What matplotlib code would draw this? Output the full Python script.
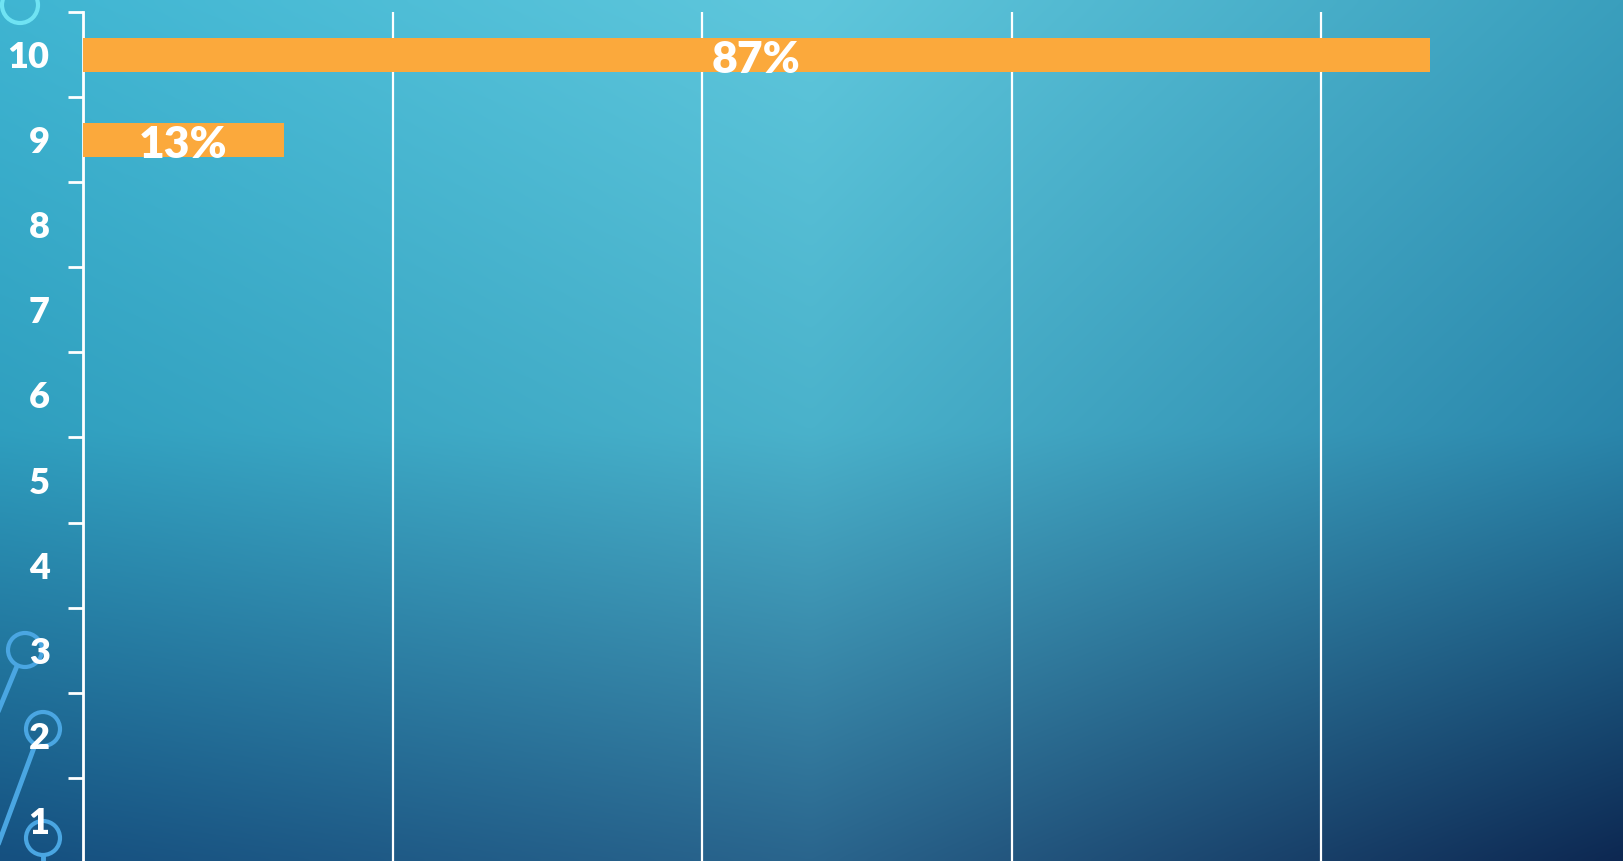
import matplotlib

matplotlib.use("Agg")
import matplotlib.pyplot as plt
import numpy as np
from matplotlib.colors import to_rgb
from matplotlib.patches import Circle

W, H = 1623, 861
DPI = 100

categories = ["1", "2", "3", "4", "5", "6", "7", "8", "9", "10"]
values = [0, 0, 0, 0, 0, 0, 0, 0, 13, 87]
labels = ["", "", "", "", "", "", "", "", "13%", "87%"]
x_ticks = [0, 20, 40, 60, 80]

BAR_COLOR = "#fba93c"
FONT = ["Lato", "DejaVu Sans"]


def background(ax):
    # rough 3x3 colour grid of the slide background, blended bilinearly
    grid = np.array([
        [to_rgb("#3fb5d2"), to_rgb("#5fc7dc"), to_rgb("#3a9fbd")],
        [to_rgb("#2f9fbf"), to_rgb("#4ab2cb"), to_rgb("#2a86ab")],
        [to_rgb("#155080"), to_rgb("#2a658d"), to_rgb("#0d2852")],
    ])
    ny, nx = 200, 380
    yy = np.linspace(0, 2, ny)[:, None] * np.ones((1, nx))
    xx = np.ones((ny, 1)) * np.linspace(0, 2, nx)[None, :]
    i0 = np.clip(np.floor(yy).astype(int), 0, 1)
    j0 = np.clip(np.floor(xx).astype(int), 0, 1)
    fy = (yy - i0)[..., None]
    fx = (xx - j0)[..., None]
    img = (grid[i0, j0] * (1 - fy) * (1 - fx) + grid[i0, j0 + 1] * (1 - fy) * fx
           + grid[i0 + 1, j0] * fy * (1 - fx) + grid[i0 + 1, j0 + 1] * fy * fx)
    ax.imshow(img, extent=(0, W, H, 0), aspect="auto", interpolation="bicubic")
    ax.set_xlim(0, W)
    ax.set_ylim(H, 0)
    ax.axis("off")


fig = plt.figure(figsize=(W / DPI, H / DPI), dpi=DPI)
bg = fig.add_axes([0, 0, 1, 1], zorder=-2)
background(bg)

# decorative theme circles on the left edge
deco = "#4aa6e2"
for cx, cy in [(25, 650), (43, 729), (43, 838)]:
    bg.add_patch(Circle((cx, cy), 17, fill=False, ec=deco, lw=3))
bg.plot([17, -2], [666, 712], color=deco, lw=3.5)
bg.plot([35, -2], [745, 845], color=deco, lw=3.5)
bg.plot([43, 43], [855, 870], color=deco, lw=3.5)
bg.add_patch(Circle((20, 5), 18, fill=False, ec="#6fe3f3", lw=3))

left = 83 / W
top = 12 / H
ax = fig.add_axes([left, -2 / H, (W - 83) / W, 1 - top + 2 / H])
ax.patch.set_alpha(0)

y = np.arange(1, len(categories) + 1)
ax.barh(y, values, height=0.4, color=BAR_COLOR, zorder=3)
for yi, v, lab in zip(y, values, labels):
    if lab:
        ax.text(v / 2, yi - 0.06, lab, ha="center", va="center", color="white",
                fontsize=32, fontweight="heavy", family=FONT, zorder=4)

ax.set_xlim(0, 99.5)
ax.set_ylim(0.5, 10.5)
ax.set_xticks(x_ticks)
ax.tick_params(axis="x", length=0, labelbottom=False)
ax.grid(axis="x", color="white", lw=1.6, zorder=1)
ax.set_yticks(np.arange(0.5, 10.6, 1.0))
ax.set_yticklabels([])
ax.set_yticks(y, minor=True)
ax.set_yticklabels(categories, minor=True)
ax.tick_params(axis="y", which="major", length=11, width=2, color="white", direction="out")
ax.tick_params(axis="y", which="minor", length=0, pad=24, labelcolor="white")
for t in ax.get_yticklabels(minor=True):
    t.set_fontsize(26)
    t.set_fontweight("heavy")
    t.set_family(FONT)
for s in ["top", "right", "bottom"]:
    ax.spines[s].set_visible(False)
ax.spines["left"].set_color("white")
ax.spines["left"].set_linewidth(2)
ax.set_axisbelow(True)

fig.savefig("out.png", dpi=DPI)
